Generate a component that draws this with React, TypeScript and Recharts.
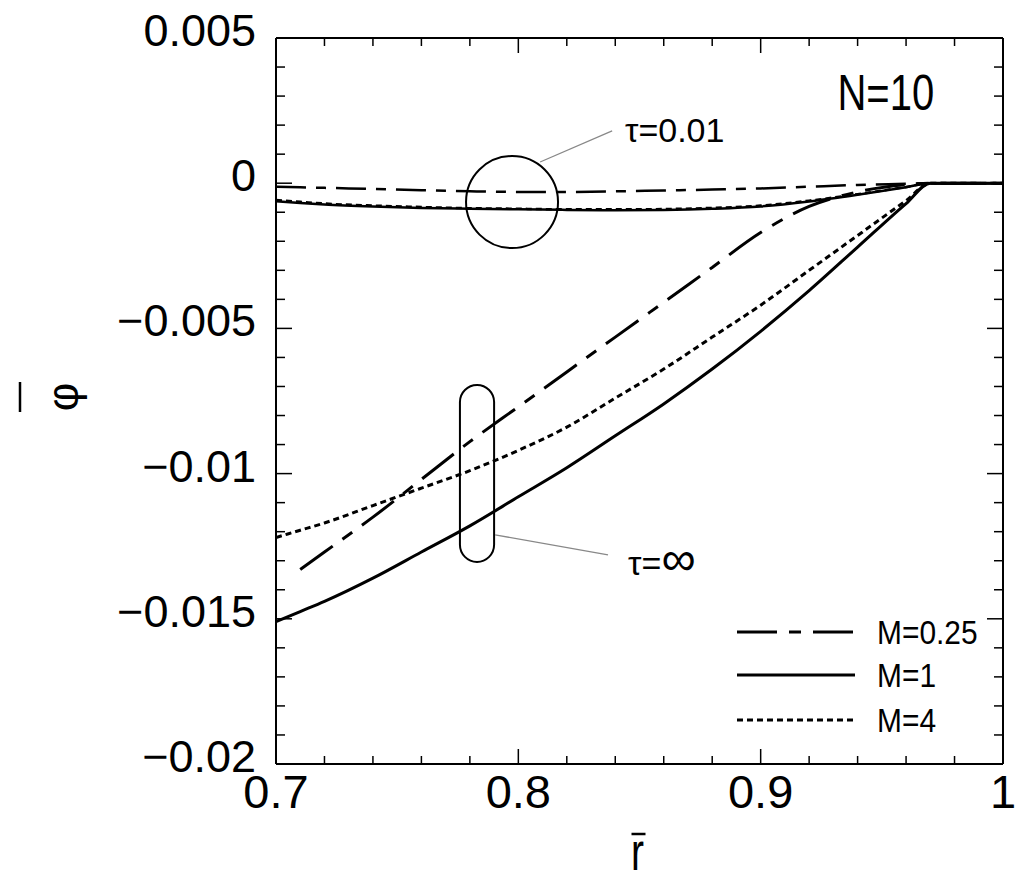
import React from 'react';
import { LineChart, Line, XAxis, YAxis, ReferenceDot, ReferenceArea, ReferenceLine, Legend } from 'recharts';

// r-bar positions shared by every curve
const rBar = [0.7, 0.71, 0.72, 0.74, 0.76, 0.78, 0.8, 0.82, 0.84, 0.86, 0.88, 0.9, 0.92, 0.94, 0.96, 0.97, 0.98, 1.0];

// tau = 0.01
const phiT001M025 = [-0.00012, -0.00014, -0.00016, -0.0002, -0.00024, -0.00028, -0.0003, -0.0003, -0.00028, -0.00025, -0.00022, -0.00018, -0.00012, -0.00006, -0.00002, 0, 0, 0];
const phiT001M1 = [-0.00062, -0.00068, -0.00073, -0.0008, -0.00085, -0.00088, -0.0009, -0.00092, -0.00093, -0.00092, -0.00088, -0.0008, -0.00063, -0.0004, -0.00014, 0, 0, 0];
const phiT001M4 = [-0.00058, -0.00064, -0.0007, -0.00077, -0.00082, -0.00086, -0.00088, -0.0009, -0.0009, -0.00089, -0.00085, -0.00077, -0.0006, -0.00038, -0.00013, 0, 0, 0];

// tau = infinity
const phiTinfM025 = [null, -0.0133, -0.0127, -0.0115, -0.0102, -0.0089, -0.0077, -0.0065, -0.0053, -0.0041, -0.0029, -0.0017, -0.0008, -0.0003, -0.00005, 0, 0, 0];
const phiTinfM1 = [-0.0151, -0.01475, -0.0144, -0.0136, -0.0127, -0.0118, -0.0108, -0.0098, -0.0087, -0.0076, -0.0064, -0.0051, -0.0037, -0.0022, -0.0007, 0, 0, 0];
const phiTinfM4 = [-0.0122, -0.01195, -0.0117, -0.0111, -0.0105, -0.0099, -0.0092, -0.0084, -0.0074, -0.0064, -0.0053, -0.0042, -0.003, -0.0018, -0.0006, 0, 0, 0];

const xTicks = [0.7, 0.72, 0.74, 0.76, 0.78, 0.8, 0.82, 0.84, 0.86, 0.88, 0.9, 0.92, 0.94, 0.96, 0.98, 1];
const xMajor = [0.7, 0.8, 0.9, 1];
const xMajorLabels = ['0.7', '0.8', '0.9', '1'];
const yTicks = [0.005, 0.004, 0.003, 0.002, 0.001, 0, -0.001, -0.002, -0.003, -0.004, -0.005, -0.006, -0.007, -0.008, -0.009, -0.01, -0.011, -0.012, -0.013, -0.014, -0.015, -0.016, -0.017, -0.018, -0.019, -0.02];
const yMajor = [0.005, 0, -0.005, -0.01, -0.015, -0.02];
const yMajorLabels = ['0.005', '0', '\u22120.005', '\u22120.01', '\u22120.015', '\u22120.02'];

const legendItems = [
  { name: 'M=0.25', dash: '40 12 12 12' },
  { name: 'M=1', dash: undefined },
  { name: 'M=4', dash: '6 4' },
];

const data = rBar.map((x, i) => ({
  x,
  t001m025: phiT001M025[i],
  t001m1: phiT001M1[i],
  t001m4: phiT001M4[i],
  tinfm025: phiTinfM025[i],
  tinfm1: phiTinfM1[i],
  tinfm4: phiTinfM4[i],
}));

const FONT = '"Liberation Sans", Arial, sans-serif';
const majorIdx = (list: number[], v: number) => list.findIndex((m) => Math.abs(m - v) < 1e-9);

const BottomTick = (p: any) => {
  const i = majorIdx(xMajor, p.payload.value);
  return (
    <g>
      <line x1={p.x} x2={p.x} y1={p.y} y2={p.y - (i >= 0 ? 15 : 8)} stroke="#000" strokeWidth={1.5} />
      {i >= 0 && (
        <text x={p.x} y={p.y + 44} textAnchor="middle" fontSize={47} fontFamily={FONT} fill="#000">
          {xMajorLabels[i]}
        </text>
      )}
    </g>
  );
};

const TopTick = (p: any) => {
  const i = majorIdx(xMajor, p.payload.value);
  return <line x1={p.x} x2={p.x} y1={p.y} y2={p.y + (i >= 0 ? 15 : 8)} stroke="#000" strokeWidth={1.5} />;
};

const LeftTick = (p: any) => {
  const i = majorIdx(yMajor, p.payload.value);
  return (
    <g>
      <line x1={p.x} x2={p.x + (i >= 0 ? 16 : 9)} y1={p.y} y2={p.y} stroke="#000" strokeWidth={1.5} />
      {i >= 0 && (
        <text x={p.x - 20} y={p.y + 8} textAnchor="end" fontSize={45} fontFamily={FONT} fill="#000">
          {yMajorLabels[i]}
        </text>
      )}
    </g>
  );
};

const RightTick = (p: any) => {
  const i = majorIdx(yMajor, p.payload.value);
  return <line x1={p.x} x2={p.x - (i >= 0 ? 16 : 9)} y1={p.y} y2={p.y} stroke="#000" strokeWidth={1.5} />;
};

const PhiLabel = (p: any) => {
  const vb = p.viewBox;
  const cx = vb.x + 62;
  const cy = vb.y + vb.height / 2 - 4;
  return (
    <g transform={`translate(${cx},${cy}) rotate(-90)`}>
      <text x={0} y={0} textAnchor="middle" dominantBaseline="central" fontSize={44} fontFamily={FONT} fill="#000">φ</text>
      <line x1={-15} x2={15} y1={-42} y2={-42} stroke="#000" strokeWidth={2.5} />
    </g>
  );
};

const RLabel = (p: any) => {
  const vb = p.viewBox;
  const cx = vb.x + vb.width / 2 - 2;
  const by = vb.y + 106;
  return (
    <g>
      <text x={cx} y={by} textAnchor="middle" fontSize={52} fontFamily={FONT} fill="#000" transform={`translate(${cx},0) scale(0.75,1) translate(${-cx},0)`}>r</text>
      <line x1={cx - 6} x2={cx + 8} y1={by - 36} y2={by - 36} stroke="#000" strokeWidth={2.5} />
    </g>
  );
};

const LegendBox = () => (
  <svg width={290} height={130} style={{ display: 'block' }}>
    {legendItems.map((it, i) => {
      const y = [24, 67, 112][i];
      return (
        <g key={it.name}>
          <line x1={9} x2={127} y1={y} y2={y} stroke="#000" strokeWidth={3} strokeDasharray={it.dash} />
          <text x={149} y={y + 12} fontSize={34} fontFamily={FONT} fill="#000" transform={`translate(149,0) scale(0.88,1) translate(-149,0)`}>
            {it.name}
          </text>
        </g>
      );
    })}
  </svg>
);

const textShape = (txt: React.ReactNode, size: number, anchor: string, sx = 1) => (p: any) => (
  <g transform={`translate(${p.cx},${p.cy}) scale(${sx},1)`}>
    <text x={0} y={0} textAnchor={anchor} fontSize={size} fontFamily={FONT} fill="#000">{txt}</text>
  </g>
);

export default function App() {
  return (
    <div style={{ margin: '-8px 0 0 -8px' }}>
      <LineChart width={1016} height={882} data={data} margin={{ top: 37, right: 12, bottom: 0, left: 0 }}>
        <XAxis dataKey="x" type="number" domain={[0.7, 1]} ticks={xTicks} interval={0} height={118}
          axisLine={{ stroke: '#000', strokeWidth: 2 }} tickLine={false} tickSize={0} tickMargin={0}
          tick={BottomTick} allowDataOverflow label={<RLabel />} />
        <XAxis xAxisId="top" orientation="top" dataKey="x" type="number" domain={[0.7, 1]} ticks={xTicks} interval={0} height={1}
          axisLine={{ stroke: '#000', strokeWidth: 2 }} tickLine={false} tickSize={0} tickMargin={0} tick={TopTick} allowDataOverflow />
        <YAxis type="number" domain={[-0.02, 0.005]} ticks={yTicks} interval={0} width={276}
          axisLine={{ stroke: '#000', strokeWidth: 2 }} tickLine={false} tickSize={0} tickMargin={0}
          tick={LeftTick} allowDataOverflow label={<PhiLabel />} />
        <YAxis yAxisId="right" orientation="right" type="number" domain={[-0.02, 0.005]} ticks={yTicks} interval={0} width={1}
          axisLine={{ stroke: '#000', strokeWidth: 2 }} tickLine={false} tickSize={0} tickMargin={0} tick={RightTick} allowDataOverflow />

        <Line dataKey="t001m025" type="monotone" stroke="#000" strokeWidth={2.5} strokeDasharray="30 10 10 10" dot={false} activeDot={false} isAnimationActive={false} />
        <Line dataKey="t001m4" type="monotone" stroke="#000" strokeWidth={2.5} strokeDasharray="6 4" dot={false} activeDot={false} isAnimationActive={false} />
        <Line dataKey="t001m1" type="monotone" stroke="#000" strokeWidth={2.5} dot={false} activeDot={false} isAnimationActive={false} />
        <Line dataKey="tinfm025" type="monotone" stroke="#000" strokeWidth={3} strokeDasharray="40 12 12 12" dot={false} activeDot={false} isAnimationActive={false} />
        <Line dataKey="tinfm4" type="monotone" stroke="#000" strokeWidth={3} strokeDasharray="6 4" dot={false} activeDot={false} isAnimationActive={false} />
        <Line dataKey="tinfm1" type="monotone" stroke="#000" strokeWidth={3} dot={false} activeDot={false} isAnimationActive={false} />

        <ReferenceDot x={0.7974} y={-0.00065} r={46} fill="none" stroke="#000" strokeWidth={2} ifOverflow="visible" />
        <ReferenceArea x1={0.7759} x2={0.79} y1={-0.01304} y2={-0.00695} ifOverflow="visible"
          shape={(p: any) => <rect x={p.x} y={p.y} width={p.width} height={p.height} rx={p.width / 2} ry={p.width / 2} fill="none" stroke="#000" strokeWidth={2} />} />
        <ReferenceLine segment={[{ x: 0.809, y: 0.00073 }, { x: 0.8387, y: 0.0018 }]} stroke="#888" strokeWidth={1.3} ifOverflow="visible" />
        <ReferenceLine segment={[{ x: 0.7904, y: -0.01211 }, { x: 0.837, y: -0.0128 }]} stroke="#888" strokeWidth={1.3} ifOverflow="visible" />
        <ReferenceDot x={0.9716} y={0.00252} r={1} ifOverflow="visible" shape={textShape('N=10', 50, 'end', 0.8)} />
        <ReferenceDot x={0.844} y={0.00142} r={1} ifOverflow="visible" shape={textShape('τ=0.01', 34, 'start')} />
        <ReferenceDot x={0.8453} y={-0.01349} r={1} ifOverflow="visible"
          shape={textShape(<><tspan>τ=</tspan><tspan fontSize={48}>∞</tspan></>, 34, 'start')} />

        <Legend layout="horizontal" verticalAlign="middle" align="center" content={LegendBox}
          wrapperStyle={{ left: 728, top: 608, width: 290, height: 130 }} />
      </LineChart>
    </div>
  );
}
